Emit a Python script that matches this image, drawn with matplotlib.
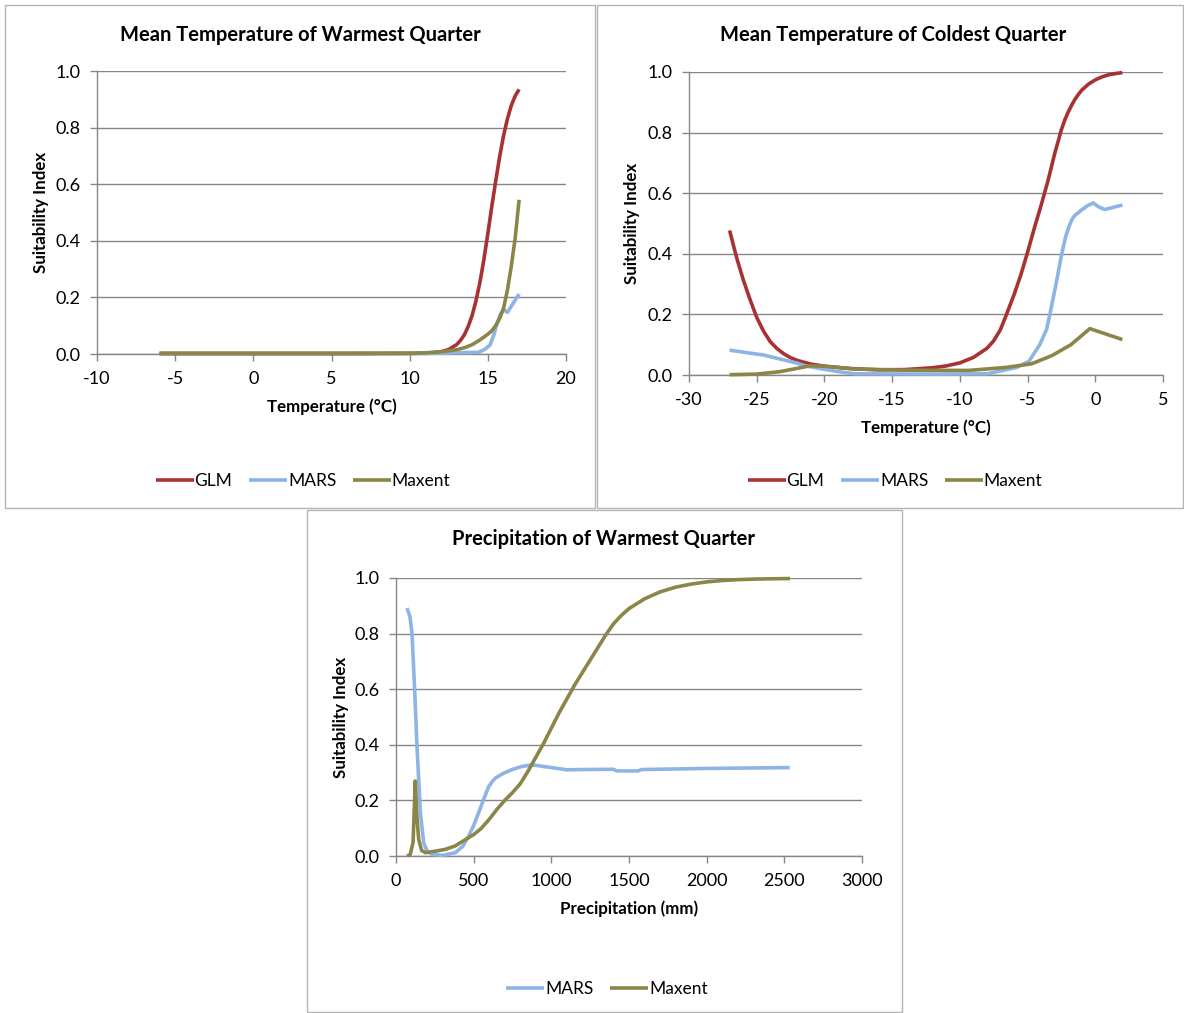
import matplotlib
matplotlib.use("Agg")
import matplotlib.pyplot as plt
from matplotlib.patches import Rectangle

plt.rcParams['font.family'] = ['Lato', 'DejaVu Sans']
plt.rcParams['axes.unicode_minus'] = False

W, H = 1184, 1013
DPI = 100

# ---------------- data ----------------
# Panel 1: Mean Temperature of Warmest Quarter
warm_glm_x = [-6, -2, 2, 6, 10, 11, 11.5, 12, 12.5, 13, 13.25, 13.5, 13.75, 14, 14.25, 14.5,
              14.75, 15, 15.25, 15.5, 15.75, 16, 16.25, 16.5, 16.75, 17]
warm_glm_y = [0.001, 0.001, 0.001, 0.001, 0.002, 0.003, 0.005, 0.008, 0.016, 0.033, 0.048,
              0.068, 0.098, 0.137, 0.19, 0.255, 0.335, 0.425, 0.52, 0.61, 0.695, 0.77, 0.83,
              0.878, 0.912, 0.935]
warm_mars_x = [-6, 11, 14.4, 14.8, 15.14, 15.4, 15.57, 15.8, 15.99, 16.25, 17]
warm_mars_y = [0.002, 0.002, 0.006, 0.016, 0.032, 0.07, 0.105, 0.14, 0.158, 0.147, 0.212]
warm_maxent_x = [-6, 10, 11, 12, 13, 13.5, 14, 14.5, 15, 15.25, 15.5, 15.75, 16, 16.25, 16.5,
                 16.75, 17]
warm_maxent_y = [0.003, 0.003, 0.004, 0.008, 0.015, 0.022, 0.033, 0.05, 0.07, 0.082, 0.1,
                 0.125, 0.16, 0.225, 0.31, 0.41, 0.545]

# Panel 2: Mean Temperature of Coldest Quarter
cold_glm_x = [-27, -26.5, -26, -25.5, -25, -24.5, -24, -23.5, -23, -22.5, -22, -21, -20, -18,
              -16, -14, -12, -11, -10, -9, -8, -7.5, -7, -6.6, -6, -5.5, -5, -4.5, -4, -3.5,
              -3, -2.75, -2.5, -2.25, -2, -1.75, -1.5, -1.25, -1, -0.5, 0, 0.5, 1, 1.5, 2]
cold_glm_y = [0.477, 0.39, 0.315, 0.25, 0.19, 0.145, 0.11, 0.087, 0.07, 0.057, 0.048, 0.036,
              0.029, 0.021, 0.017, 0.018, 0.024, 0.03, 0.04, 0.058, 0.088, 0.113, 0.15, 0.195,
              0.265, 0.33, 0.405, 0.485, 0.56, 0.64, 0.73, 0.77, 0.81, 0.842, 0.868, 0.89,
              0.91, 0.926, 0.94, 0.96, 0.974, 0.984, 0.991, 0.995, 0.998]
cold_mars_x = [-27, -25, -24.5, -23.3, -22, -21.5, -19.4, -17.8, -12, -8, -5.8, -4.9, -4.1,
               -3.6, -3.3, -2.9, -2.5, -2.2, -1.9, -1.7, -1.5, -1.0, -0.6, -0.15, 0.25, 0.7, 2]
cold_mars_y = [0.082, 0.069, 0.066, 0.053, 0.039, 0.031, 0.014, 0.004, 0.003, 0.004, 0.025,
               0.045, 0.1, 0.15, 0.212, 0.3, 0.395, 0.455, 0.495, 0.515, 0.527, 0.545, 0.558,
               0.568, 0.555, 0.546, 0.561]
cold_maxent_x = [-27, -25, -23.3, -22, -21.1, -20, -17.8, -14, -9.4, -6.6, -4.7, -3.2, -1.8,
                 -0.4, 2]
cold_maxent_y = [0.001, 0.003, 0.011, 0.022, 0.03, 0.029, 0.02, 0.016, 0.015, 0.025, 0.037,
                 0.064, 0.1, 0.153, 0.117]

# Panel 3: Precipitation of Warmest Quarter
prec_mars_x = [71, 90, 103, 120, 135, 157, 178, 200, 232, 300, 382, 430, 468, 500, 532, 565,
               597, 620, 639, 690, 747, 810, 876, 950, 1026, 1100, 1200, 1400, 1420, 1560,
               1580, 2000, 2535]
prec_mars_y = [0.892, 0.86, 0.80, 0.60, 0.395, 0.156, 0.048, 0.018, 0.006, 0.002, 0.012,
               0.035, 0.072, 0.11, 0.156, 0.205, 0.25, 0.268, 0.28, 0.297, 0.311, 0.322, 0.328,
               0.322, 0.316, 0.31, 0.311, 0.312, 0.306, 0.306, 0.311, 0.315, 0.318]
prec_maxent_x = [71, 92, 110, 124, 135, 146, 165, 189, 250, 318, 380, 450, 500, 550, 600, 650,
                 700, 750, 800, 850, 900, 950, 1000, 1050, 1100, 1150, 1200, 1250, 1300, 1350,
                 1400, 1450, 1500, 1600, 1700, 1800, 1900, 2000, 2100, 2200, 2300, 2400, 2537]
prec_maxent_y = [0.0, 0.006, 0.05, 0.27, 0.14, 0.06, 0.02, 0.012, 0.017, 0.024, 0.036, 0.06,
                 0.077, 0.1, 0.132, 0.168, 0.2, 0.228, 0.26, 0.305, 0.355, 0.405, 0.46, 0.515,
                 0.565, 0.615, 0.66, 0.705, 0.75, 0.795, 0.835, 0.865, 0.89, 0.925, 0.95,
                 0.967, 0.978, 0.986, 0.991, 0.994, 0.996, 0.997, 0.998]

C_GLM = '#A83232'
C_MARS = '#8EB4E3'
C_MAXENT = '#8C8548'
GRID = '#868686'
BORDER = '#B4B4B4'

fig = plt.figure(figsize=(W / DPI, H / DPI), dpi=DPI)
fig.patch.set_facecolor('white')


def fx(px):
    return px / W


def fy(py):
    return 1 - py / H


# panel borders
for (x0, y0, x1, y1) in [(5, 5, 595, 508), (597, 5, 1183, 508), (307, 510, 902, 1012)]:
    fig.add_artist(Rectangle((fx(x0), fy(y1)), fx(x1) - fx(x0), fy(y0) - fy(y1),
                             transform=fig.transFigure, fill=False, edgecolor=BORDER,
                             linewidth=1.0))


def make_axes(left, right, top, bottom, xlim, xticks, title, title_xy, xlabel, xlabel_y,
              ylabel_x, series, legend_xy):
    ax = fig.add_axes([fx(left), fy(bottom), fx(right) - fx(left), fy(top) - fy(bottom)])
    ax.set_xlim(*xlim)
    ax.set_ylim(0, 1)
    ax.set_xticks(xticks)
    ax.set_yticks([0, 0.2, 0.4, 0.6, 0.8, 1.0])
    ax.set_yticklabels(['0.0', '0.2', '0.4', '0.6', '0.8', '1.0'])
    for s in ['top', 'right']:
        ax.spines[s].set_visible(False)
    for s in ['left', 'bottom']:
        ax.spines[s].set_color(GRID)
        ax.spines[s].set_linewidth(1.0)
    ax.yaxis.grid(True, color=GRID, linewidth=1.0)
    ax.set_axisbelow(True)
    ax.tick_params(axis='both', direction='out', length=5, width=1.0, color=GRID,
                   labelsize=13, labelcolor='black')
    ax.tick_params(axis='y', pad=7)
    ax.tick_params(axis='x', pad=7)
    handles = []
    for xs, ys, c, lab in series:
        ln, = ax.plot(xs, ys, color=c, linewidth=2.6, label=lab, clip_on=False,
                      zorder=3, solid_capstyle='butt', solid_joinstyle='round')
        handles.append(ln)
    fig.text(fx(title_xy[0]), fy(title_xy[1]), title, ha='center', va='center',
             fontsize=14.5, fontweight='bold')
    fig.text(fx((left + right) / 2), fy(xlabel_y), xlabel, ha='center', va='center',
             fontsize=12.2, fontweight='bold')
    fig.text(fx(ylabel_x), fy((top + bottom) / 2), 'Suitability Index', ha='center',
             va='center', rotation=90, fontsize=12.2, fontweight='bold')
    fig.legend(handles=handles, loc='center', bbox_to_anchor=(fx(legend_xy[0]), fy(legend_xy[1])),
               ncol=len(handles), frameon=False, fontsize=12.5, handlelength=2.2,
               handletextpad=0.05, columnspacing=0.95, borderaxespad=0)
    return ax


make_axes(97, 566, 71, 354, (-10, 20), [-10, -5, 0, 5, 10, 15, 20],
          'Mean Temperature of Warmest Quarter', (300, 35), 'Temperature (°C)', 407, 41,
          [(warm_glm_x, warm_glm_y, C_GLM, 'GLM'),
           (warm_mars_x, warm_mars_y, C_MARS, 'MARS'),
           (warm_maxent_x, warm_maxent_y, C_MAXENT, 'Maxent')],
          (303, 481))

make_axes(689, 1163, 72, 375, (-30, 5), [-30, -25, -20, -15, -10, -5, 0, 5],
          'Mean Temperature of Coldest Quarter', (893, 35), 'Temperature (°C)', 428, 632,
          [(cold_glm_x, cold_glm_y, C_GLM, 'GLM'),
           (cold_mars_x, cold_mars_y, C_MARS, 'MARS'),
           (cold_maxent_x, cold_maxent_y, C_MAXENT, 'Maxent')],
          (895, 481))

make_axes(396, 862, 578, 856, (0, 3000), [0, 500, 1000, 1500, 2000, 2500, 3000],
          'Precipitation of Warmest Quarter', (603, 539), 'Precipitation (mm)', 909, 341,
          [(prec_mars_x, prec_mars_y, C_MARS, 'MARS'),
           (prec_maxent_x, prec_maxent_y, C_MAXENT, 'Maxent')],
          (607, 989))

fig.savefig('out.png', dpi=DPI, facecolor='white')
